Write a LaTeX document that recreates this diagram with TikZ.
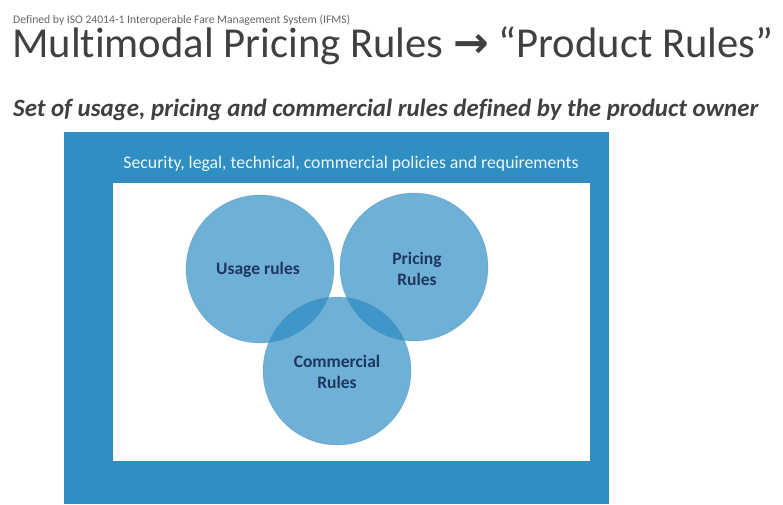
\documentclass[tikz,border=0pt]{standalone}
\usepackage{fontspec}
\setmainfont[Ligatures=NoCommon]{Carlito}
\newfontfamily\arrowfont{DejaVu Sans}
\usetikzlibrary{positioning}
\definecolor{frameblue}{RGB}{47,143,194}
\definecolor{circblue}{RGB}{44,139,196}
\definecolor{navy}{RGB}{30,55,95}
\definecolor{titlegray}{RGB}{64,64,64}
\tikzset{
  venn/.style={circle, minimum size=148pt, inner sep=0pt, fill=circblue, fill opacity=0.68, draw=circblue!80!black, draw opacity=0.2, line width=0.8pt},
  venntext/.style={text=navy, font=\fontsize{17.5}{21}\selectfont\bfseries, align=center, text opacity=1},
  plain/.style={inner sep=0pt, anchor=base west}
}
\begin{document}
\begin{tikzpicture}[x=1pt,y=-1pt]
\useasboundingbox (0,0) rectangle (783,504);
\fill[white] (0,0) rectangle (783,504);
% header texts
\node[plain, text=titlegray!80] (hdr) at (13,23) {\resizebox{337pt}{!}{\fontsize{11}{13}\selectfont Defined by ISO 24014-1 Interoperable Fare Management System (IFMS)}};
\node[plain, text=titlegray] (title) at (12,57) {\resizebox{761pt}{!}{\fontsize{37}{40}\selectfont Multimodal Pricing Rules {\arrowfont\bfseries →} “Product Rules”}};
\node[plain, text=titlegray] (sub) at (13,116) {\resizebox{745pt}{!}{\fontsize{20}{24}\selectfont\bfseries\itshape Set of usage, pricing and commercial rules defined by the product owner}};
% frame
\fill[frameblue] (64,132) rectangle (609,504);
\fill[white] (113,183) rectangle (590,461);
\node[inner sep=0pt, text=white!92!frameblue] (policy) at (351,164) {\resizebox{455pt}{!}{\fontsize{11}{13}\selectfont Security, legal, technical, commercial policies and requirements}};
% circles
\node[venn] (usage) at (260,269) {};
\node[venn] (pricing) at (414,267) {};
\node[venn] (commercial) at (337,371) {};
\node[venntext] (usaget) at (258,270) {Usage rules};
\node[venntext] (pricingt) at (417,269) {Pricing\\Rules};
\node[venntext] (commercialt) at (337,372) {Commercial\\Rules};
\end{tikzpicture}
\end{document}
